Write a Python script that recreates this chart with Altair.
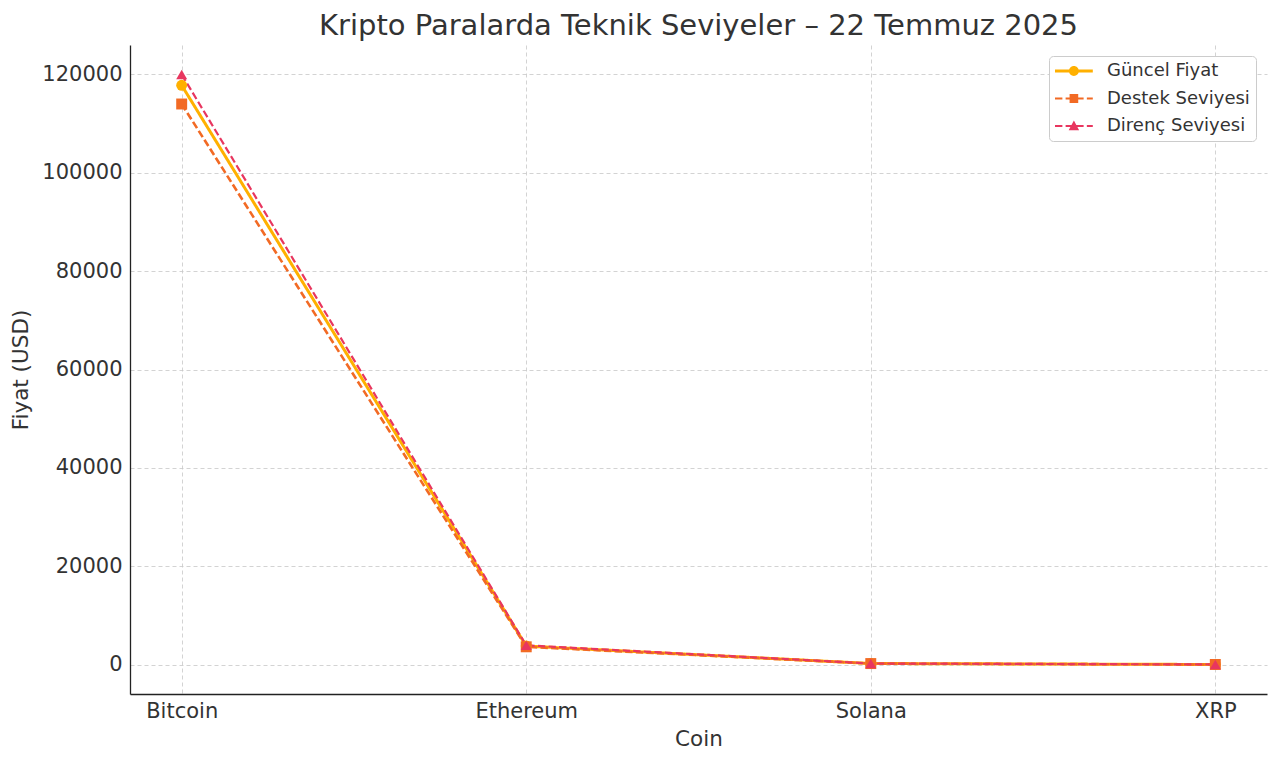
import altair as alt
import pandas as pd

coins = ["Bitcoin", "Ethereum", "Solana", "XRP"]
series_names = ["Güncel Fiyat", "Destek Seviyesi", "Direnç Seviyesi"]
guncel = [117800, 3750, 200, 3.5]
destek = [114000, 3600, 190, 3.3]
direnc = [120000, 3900, 210, 3.7]
y_ticks = [0, 20000, 40000, 60000, 80000, 100000, 120000]

rows = []
for name, vals in zip(series_names, [guncel, destek, direnc]):
    for c, v in zip(coins, vals):
        rows.append({"Coin": c, "Seri": name, "Fiyat": v})
df = pd.DataFrame(rows)

colors = ["#FFB000", "#F26A24", "#E8365F"]
FONT = "DejaVu Sans"
TXT = "#333333"


# legend symbol paths: line segment + marker (units of sqrt(size)/2)
def line_part(dashed, half):
    x0, x1 = -1.0, 3.2
    if not dashed:
        return f"M{x0},{-half}H{x1}V{half}H{x0}Z"
    parts = []
    x = x0
    dash, gap = 0.82, 0.36
    while x < x1:
        xe = min(x + dash, x1)
        parts.append(f"M{x:.3f},{-half}H{xe:.3f}V{half}H{x:.3f}Z")
        x += dash + gap
    return " ".join(parts)


circle = "M1.65,0A0.55,0.55 0 1,1 0.55,0A0.55,0.55 0 1,1 1.65,0Z"
square = "M0.62,-0.5H1.58V0.5H0.62Z"
triangle = "M1.1,-0.62L1.68,0.46L0.52,0.46Z"
legend_paths = [
    line_part(False, 0.17) + " " + circle,
    line_part(True, 0.12) + " " + square,
    line_part(True, 0.12) + " " + triangle,
]

x_enc = alt.X(
    "Coin:N",
    sort=coins,
    scale=alt.Scale(type="point", padding=0.15),
    axis=alt.Axis(title="Coin", labelAngle=0, labelPadding=6, titlePadding=7),
)
y_enc = alt.Y(
    "Fiyat:Q",
    scale=alt.Scale(domain=[-6000, 126000], nice=False, zero=False),
    axis=alt.Axis(title="Fiyat (USD)", values=y_ticks, format="d",
                  labelPadding=8, titlePadding=9),
)
color_enc = alt.Color(
    "Seri:N",
    scale=alt.Scale(domain=series_names, range=colors),
    legend=None,
)

base = alt.Chart(df)

lines = base.mark_line().encode(
    x=x_enc,
    y=y_enc,
    color=color_enc,
    strokeDash=alt.StrokeDash(
        "Seri:N",
        scale=alt.Scale(domain=series_names, range=[[1, 0], [7.4, 3.2], [7.4, 3.2]]),
        legend=None,
    ),
    strokeWidth=alt.StrokeWidth(
        "Seri:N", scale=alt.Scale(domain=series_names, range=[3, 2.2, 2.2]), legend=None
    ),
    order=alt.Order("Seri:N"),
)

points = base.mark_point(filled=True, opacity=1, size=120).encode(
    x=x_enc,
    y=y_enc,
    color=color_enc,
    shape=alt.Shape(
        "Seri:N",
        scale=alt.Scale(domain=series_names, range=["circle", "square", "triangle-up"]),
        legend=None,
    ),
)

legend_layer = base.mark_point(filled=True, opacity=0).encode(
    x=x_enc,
    y=y_enc,
    color=color_enc,
    shape=alt.Shape(
        "Seri:N",
        scale=alt.Scale(domain=series_names, range=legend_paths),
        legend=alt.Legend(
            title=None,
            symbolFillColor=alt.ExprRef("scale('color', datum.value)"),
            symbolOpacity=1,
        ),
    ),
)

chart = (
    alt.layer(lines, points, legend_layer)
    .resolve_scale(shape="independent")
    .properties(
        width=1137,
        height=649,
        autosize=alt.AutoSizeParams(type="none"),
        padding={"left": 122, "top": 37, "right": 5, "bottom": 61},
        title=alt.Title(
            "Kripto Paralarda Teknik Seviyeler – 22 Temmuz 2025",
            fontSize=29,
            fontWeight="normal",
            font=FONT,
            color=TXT,
            offset=4,
        ),
    )
    .configure_view(stroke=None)
    .configure_axis(
        labelFont=FONT,
        titleFont=FONT,
        labelFontSize=21,
        titleFontSize=21.5,
        titleFontWeight="normal",
        labelColor=TXT,
        titleColor=TXT,
        domainColor="#222222",
        domainWidth=1.3,
        ticks=False,
        grid=True,
        gridColor="#c8c8c8",
        gridDash=[4, 3],
        gridWidth=0.8,
    )
    .configure_legend(
        orient="top-right",
        offset=11,
        labelFont=FONT,
        labelFontSize=18,
        labelColor=TXT,
        symbolSize=324,
        symbolOpacity=1,
        symbolStrokeWidth=0,
        labelOffset=34,
        rowPadding=9.5,
        padding=6,
        strokeColor="#cccccc",
        fillColor="white",
        cornerRadius=4,
    )
)

chart.save("out.html", embed_options={"renderer": "svg", "actions": False})
